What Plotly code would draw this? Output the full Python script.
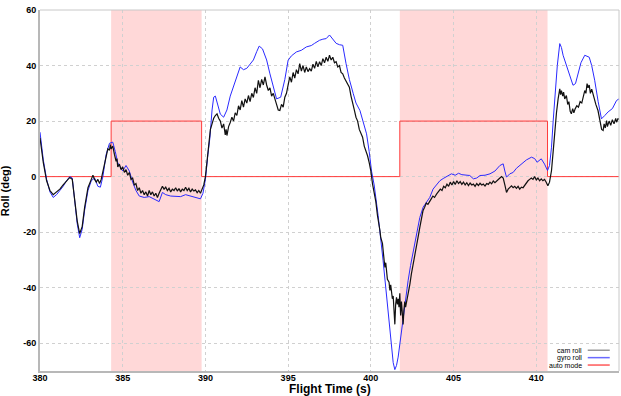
import plotly.graph_objects as go

# ---- data ----
gyro_t = [380.0, 380.2, 380.4, 380.6, 380.8, 381.0, 381.2, 381.4, 381.6, 381.8, 381.95, 382.1, 382.25, 382.4,
          382.55, 382.7, 382.9, 383.1, 383.3, 383.5, 383.65, 383.8, 384.0, 384.2, 384.4, 384.55, 384.7, 384.85,
          385.0, 385.2, 385.4, 385.6, 385.8, 386.0, 386.3, 386.6, 386.9, 387.2, 387.4, 387.6, 387.9, 388.2,
          388.5, 388.8, 389.1, 389.4, 389.7, 389.85, 390.0, 390.15, 390.27, 390.4, 390.5, 390.6, 390.75, 390.9,
          391.1, 391.3, 391.5, 391.7, 391.9, 392.1, 392.3, 392.5, 392.7, 392.9, 393.1, 393.25, 393.45, 393.7,
          393.9, 394.1, 394.3, 394.55, 394.8, 395.0, 395.2, 395.5, 395.8, 396.1, 396.4, 396.6, 396.9, 397.1,
          397.3, 397.5, 397.7, 397.9, 398.1, 398.3, 398.5, 398.7, 398.93, 399.1, 399.34, 399.55, 399.74, 399.9,
          400.04, 400.2, 400.44, 400.74, 401.04, 401.2, 401.35, 401.45, 401.55, 401.65, 401.8, 401.95, 402.1,
          402.25, 402.4, 402.56, 402.76, 402.96, 403.16, 403.36, 403.56, 403.76, 403.97, 404.17, 404.37, 404.6,
          404.87, 405.1, 405.3, 405.5, 405.7, 405.98, 406.2, 406.4, 406.6, 406.9, 407.2, 407.5, 407.8, 408.0,
          408.1, 408.2, 408.4, 408.6, 408.8, 409.1, 409.4, 409.71, 409.9, 410.05, 410.3, 410.5, 410.68, 410.8,
          410.92, 411.02, 411.12, 411.27, 411.42, 411.52, 411.62, 411.77, 411.92, 412.07, 412.22, 412.37, 412.5,
          412.7, 412.93, 413.2, 413.35, 413.53, 413.74, 413.94, 414.14, 414.34, 414.6, 414.85, 415.0]
gyro_roll = [16, 6, -1, -5.5, -7.5, -6.5, -5, -3.5, -1.5, 0, -0.5, -8, -17, -22,
             -19, -12, -5, -1.5, -0.5, -3.5, -3.8, 0, 8, 12, 12.4, 9, 5, 3.5,
             2, 4, 2, -2, -5, -7, -7.5, -7.2, -8, -9, -5.7, -6.5, -7, -7,
             -7.2, -6.5, -7, -7.5, -8, -6, -1, 8, 14, 24, 28.6, 29, 26, 22.5,
             21.4, 24, 29, 32.5, 36, 39.5, 38.5, 39, 40.5, 42, 45, 47, 46, 42,
             37, 32, 28, 28.6, 35, 41.9, 43.5, 44.9, 45.5, 46.7, 47.2, 48, 49.1, 49.5,
             49.7, 51, 49.5, 48, 47.5, 47.3, 40.7, 35, 30, 26.5, 23.8, 19, 15.4, 9,
             2, -3, -14, -30.3, -47.2, -57, -67, -69.5, -68, -65, -58, -50.8, -44,
             -37.5, -32, -26.7, -20, -14.7, -11, -9, -7.5, -4.5, -3, -1.5, -0.7, 0,
             1, 0.5, 1.2, 0.7, 0.5, 0.4, -0.8, -0.5, 0.4, 0.5, 1, 2, 4, 4.6,
             2, -0.2, 1, 1.5, 3, 4.6, 6, 7, 6.5, 5.2, 6.4, 4.5, 2.2, 4,
             10.6, 20, 28.6, 40, 47.9, 46.5, 43.7, 41, 38.3, 35, 32.9, 33.5, 36.4,
             41, 43.7, 43, 40, 34.7, 27, 20.8, 22, 23.3, 24.5, 27.4, 28]

cam_t = [380.0, 380.2, 380.4, 380.6, 380.8, 381.0, 381.2, 381.4, 381.6, 381.8, 381.95, 382.1, 382.25, 382.4,
         382.55, 382.7, 382.9, 383.1, 383.2, 383.3, 383.4, 383.5, 383.6, 383.7, 383.8, 384.0, 384.1, 384.2,
         384.25, 384.3, 384.4, 384.5, 384.6, 384.65, 384.7, 384.8, 384.9, 385.0, 385.1, 385.2, 385.3, 385.4,
         385.5, 385.6, 385.7, 385.8, 385.9, 386.0, 386.1, 386.2, 386.3, 386.4, 386.5, 386.6, 386.7, 386.8,
         386.9, 387.0, 387.1, 387.2, 387.3, 387.4, 387.5, 387.6, 387.7, 387.8, 387.9, 388.0, 388.1, 388.2,
         388.3, 388.4, 388.5, 388.6, 388.7, 388.8, 388.9, 389.0, 389.1, 389.2, 389.3, 389.4, 389.5, 389.6,
         389.7, 389.8, 389.9, 390.0, 390.1, 390.2, 390.3, 390.4, 390.5, 390.6, 390.7, 390.8, 390.9, 391.0,
         391.1, 391.2, 391.25, 391.3, 391.4, 391.5, 391.6, 391.7, 391.8, 391.9, 392.0, 392.1, 392.2, 392.3,
         392.4, 392.5, 392.6, 392.7, 392.8, 392.9, 393.0, 393.1, 393.2, 393.3, 393.4, 393.5, 393.6, 393.7,
         393.8, 393.9, 394.0, 394.1, 394.2, 394.3, 394.4, 394.5, 394.6, 394.7, 394.8, 394.9, 395.0, 395.1,
         395.2, 395.3, 395.4, 395.5, 395.6, 395.7, 395.8, 395.9, 396.0, 396.1, 396.2, 396.3, 396.4, 396.5,
         396.6, 396.7, 396.8, 396.9, 397.0, 397.1, 397.2, 397.3, 397.4, 397.5, 397.6, 397.7, 397.8, 397.9,
         398.0, 398.1, 398.2, 398.3, 398.4, 398.5, 398.6, 398.7, 398.8, 398.9, 399.0, 399.1, 399.2, 399.3,
         399.4, 399.5, 399.6, 399.7, 399.8, 399.9, 400.0, 400.1, 400.2, 400.3, 400.4, 400.5, 400.55, 400.6,
         400.7, 400.8, 400.85, 400.9, 401.0, 401.1, 401.15, 401.2, 401.3, 401.35, 401.4, 401.45, 401.5, 401.55,
         401.6, 401.65, 401.7, 401.75, 401.8, 401.85, 401.9, 401.95, 402.0, 402.05, 402.1, 402.2, 402.3, 402.36,
         402.45, 402.55, 402.66, 402.75, 402.85, 402.96, 403.05, 403.15, 403.25, 403.35, 403.45, 403.55, 403.65,
         403.75, 403.85, 403.97, 404.1, 404.2, 404.3, 404.4, 404.5, 404.6, 404.7, 404.8, 404.9, 405.0, 405.1,
         405.2, 405.3, 405.4, 405.5, 405.6, 405.7, 405.8, 405.9, 406.0, 406.1, 406.2, 406.3, 406.4, 406.5,
         406.6, 406.7, 406.8, 406.9, 407.0, 407.1, 407.2, 407.3, 407.4, 407.5, 407.6, 407.7, 407.8, 407.9,
         408.0, 408.1, 408.2, 408.3, 408.4, 408.5, 408.6, 408.7, 408.8, 408.9, 409.0, 409.1, 409.2, 409.3,
         409.4, 409.5, 409.6, 409.7, 409.8, 409.9, 410.0, 410.1, 410.2, 410.3, 410.4, 410.5, 410.6, 410.7,
         410.8, 410.92, 411.02, 411.12, 411.22, 411.32, 411.42, 411.47, 411.52, 411.6, 411.65, 411.72, 411.82,
         411.9, 411.97, 412.05, 412.12, 412.2, 412.27, 412.35, 412.45, 412.55, 412.65, 412.75, 412.83, 412.93,
         413.0, 413.07, 413.13, 413.2, 413.27, 413.35, 413.4, 413.5, 413.6, 413.73, 413.85, 413.95, 414.04,
         414.1, 414.17, 414.25, 414.3, 414.4, 414.5, 414.6, 414.7, 414.8, 414.85, 414.95, 415.0]
cam_roll = [14, 5, -1.5, -5, -6.5, -5.5, -4.5, -3, -1.5, -0.3, -1, -8, -16, -20.5,
            -18, -11, -4, -1, 0.5, -1, -2, -1, -2.5, -1, 1.5, 7.5, 10, 9.5,
            11.5, 10, 11, 8, 5.5, 6.5, 3.5, 4.5, 2.5, 3.5, 1.5, 2.5, 0.5, 1.5,
            -1, -0.5, -3, -2.5, -5, -4, -6, -5, -6.5, -5.5, -7, -5, -6.5, -5.5,
            -7, -6, -7.5, -6, -5, -3.5, -4.5, -3.8, -5, -4.2, -5.5, -4.5, -5, -4,
            -5.2, -4.3, -5.5, -4.5, -5, -3.8, -5, -4.2, -5.5, -4.5, -5.2, -4.8, -5.8, -5,
            -6, -4.5, -3, 0, 6, 11, 17, 19, 21, 22, 22.6, 21, 20, 17.5,
            19, 15, 17, 14.8, 18, 19.5, 21.4, 20, 23, 22, 25.5, 24, 27.4, 25,
            28, 26.5, 29.2, 27, 30, 28.5, 32, 30, 34.7, 32, 35, 33, 35.9, 33,
            31, 32, 29, 30, 27.4, 26, 24, 23.8, 26, 25, 28.6, 30, 33, 35.9,
            34, 37.5, 35.5, 38.5, 37, 40.7, 38, 40, 37.5, 39.5, 37.8, 38.9, 38, 40.5,
            39, 41.5, 39.5, 41.4, 40, 42.5, 41, 43, 41.5, 43.7, 42, 43, 41, 41.4,
            39.5, 40, 37.5, 37, 35.5, 34.5, 33, 32.2, 29, 26, 24, 21.4, 20, 17,
            15.5, 14.2, 11, 9.4, 7.5, 5, 2, -2.6, -6, -9, -14, -17, -19.5, -22,
            -24, -30, -32.7, -31, -37, -38, -41, -39, -44, -43, -47, -53.2, -46, -43.5,
            -46, -44, -47, -42, -50, -45, -49, -53.2, -48, -45, -47, -44, -40, -38.7,
            -35, -32, -29.1, -25, -22, -18.3, -15, -12.3, -11, -9.5, -10, -8.7, -8,
            -7, -7.5, -6.3, -5.5, -4.5, -5, -3.5, -4, -2.7, -3.5, -2, -3, -1.8, -2.8,
            -1.5, -2.5, -1.8, -2.8, -2, -3, -2.2, -3.2, -2.3, -3, -2.7, -3.5, -2.5, -3.2,
            -2.4, -3, -2.7, -3.4, -2.5, -2.8, -2, -2.6, -1.6, -2.2, -1.5, -1, -0.5, 0,
            -0.5, -3, -5.7, -4.5, -4, -3.3, -4, -3.5, -4.2, -3.5, -4.5, -3.8, -4, -3,
            -2.5, -1.5, -1, -0.5, -1, 0, -1.2, -0.5, -1.5, -0.8, -1.5, -1, -2, -3.3,
            -2, 2.2, 9, 16.6, 23, 28, 31.6, 29.5, 31, 29, 30.4, 28, 29.2,
            26, 27, 23.5, 22.6, 24.5, 23, 24.4, 25.5, 25, 27, 26.5, 28.6, 31,
            30, 33.5, 32, 33, 30, 31.5, 30.4, 28, 26, 23.8, 20, 17, 16.6,
            19, 17.5, 20.2, 18, 20, 18.5, 20.5, 19, 21, 19.6, 21, 20.5]

auto_start = [384.3, 401.75]
auto_end = [389.77, 410.68]
auto_on_value = 20
x_ticks = [380, 385, 390, 395, 400, 405, 410, 415]
y_ticks = [-60, -40, -20, 0, 20, 40, 60]

# auto-mode step series built from intervals
mode_t = [380.0]
mode_v = [0]
for s, e in zip(auto_start, auto_end):
    mode_t += [s, e]
    mode_v += [auto_on_value, 0]
mode_t.append(415.0)
mode_v.append(0)

fig = go.Figure()
fig.add_trace(go.Scatter(x=mode_t, y=mode_v, mode="lines", line=dict(color="#ff3b3b", width=1, shape="hv"),
                         name="auto mode", showlegend=False))
fig.add_trace(go.Scatter(x=gyro_t, y=gyro_roll, mode="lines", line=dict(color="#2a2aff", width=1),
                         name="gyro roll", showlegend=False))
fig.add_trace(go.Scatter(x=cam_t, y=cam_roll, mode="lines", line=dict(color="#111111", width=1.2),
                         name="cam roll", showlegend=False))

shapes = []
for s, e in zip(auto_start, auto_end):
    shapes.append(dict(type="rect", xref="x", yref="paper", x0=s, x1=e, y0=0, y1=1,
                       fillcolor="#ffd8d8", line=dict(width=0), layer="below"))
# thin frame top/right
shapes.append(dict(type="line", xref="paper", yref="paper", x0=0, x1=1, y0=1, y1=1,
                   line=dict(color="#c8c8c8", width=1)))
shapes.append(dict(type="line", xref="paper", yref="paper", x0=1, x1=1, y0=0, y1=1,
                   line=dict(color="#c8c8c8", width=1)))

# legend (text right, line sample to the right)
legend_items = [("cam roll", "#999999"), ("gyro roll", "#6a6aff"), ("auto mode", "#ff5a5a")]
annotations = []
for i, (lab, col) in enumerate(legend_items):
    yy = 0.0575 - i * 0.0205
    annotations.append(dict(text=lab, xref="paper", yref="paper", x=0.938, y=yy, xanchor="right",
                            yanchor="middle", showarrow=False, borderpad=0,
                            font=dict(family="Liberation Sans, Arial, sans-serif", size=7, color="#000")))
    shapes.append(dict(type="line", xref="paper", yref="paper", x0=0.946, x1=0.984, y0=yy, y1=yy,
                       line=dict(color=col, width=1.5)))

annotations.append(dict(text="<b>Flight Time (s)</b>", xref="paper", yref="paper", x=0.5, y=-0.049,
                        xanchor="center", yanchor="middle", showarrow=False, borderpad=0,
                        font=dict(family="Liberation Sans, Arial, sans-serif", size=12, color="#000")))
annotations.append(dict(text="<b>Roll (deg)</b>", xref="paper", yref="paper", x=-0.047, y=0.5,
                        xanchor="right", yanchor="middle", textangle=-90, showarrow=False,
                        font=dict(family="Liberation Sans, Arial, sans-serif", size=11, color="#000")))

fig.update_layout(
    width=621, height=396,
    margin=dict(l=40, r=2, t=10, b=25),
    paper_bgcolor="white", plot_bgcolor="white",
    showlegend=False,
    shapes=shapes, annotations=annotations,
    font=dict(family="Liberation Sans, Arial, sans-serif", color="#000"),
    xaxis=dict(range=[380, 415], tickvals=x_ticks, ticktext=[str(v) for v in x_ticks],
               showgrid=True, gridcolor="#d0d0d0", griddash="dot", gridwidth=1,
               showline=True, linecolor="#b8b8b8", linewidth=2, zeroline=False,
               ticks="", tickfont=dict(size=9, weight="bold"), automargin=False,
               ticklabelstandoff=-3),
    yaxis=dict(range=[-70, 60], tickvals=y_ticks, ticktext=[str(v) for v in y_ticks],
               showgrid=True, gridcolor="#d0d0d0", griddash="dot", gridwidth=1,
               showline=True, linecolor="#b8b8b8", linewidth=2, zeroline=False,
               ticks="", tickfont=dict(size=9, weight="bold"), automargin=False),
)

fig.write_html("out.html", config={"displayModeBar": False},
               post_script="document.body.style.margin='0px';document.body.style.padding='0px';")
